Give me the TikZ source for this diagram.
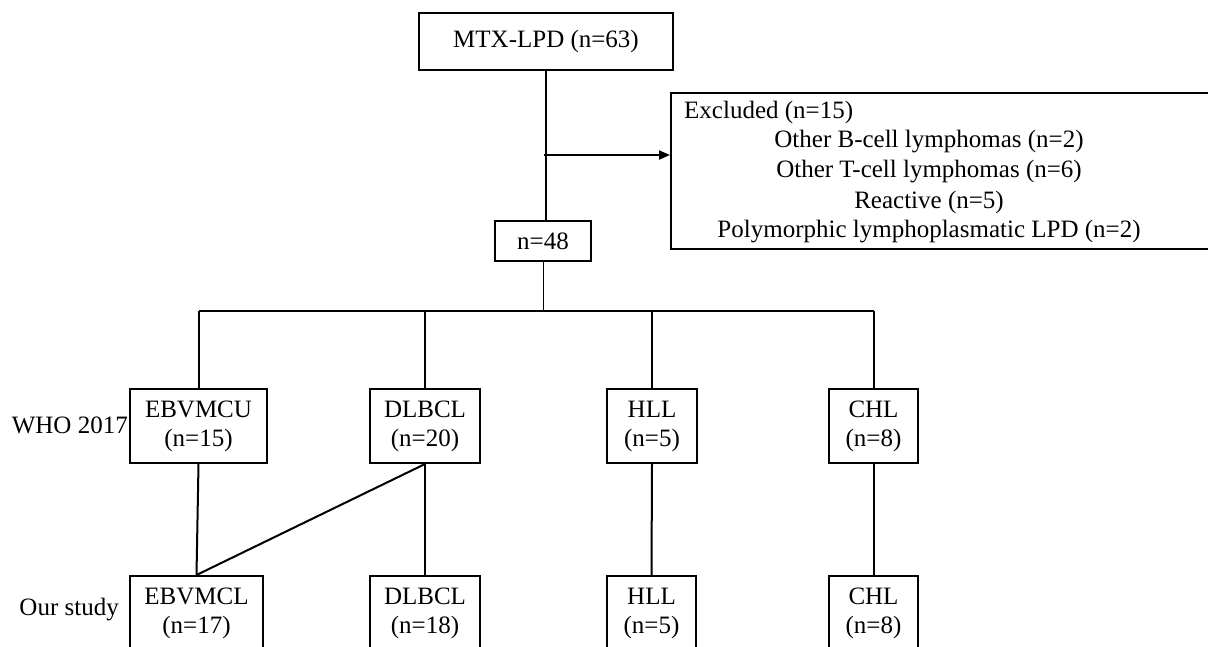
\documentclass[tikz,border=0pt]{standalone}
\usepackage{fontspec}
\setmainfont{Liberation Serif}
\usetikzlibrary{arrows.meta}

\begin{document}
\begin{tikzpicture}[x=1pt,y=1pt,yscale=-1,xscale=1,
	box/.style={draw, line width=2pt, rectangle, inner sep=0pt, align=center, minimum height=74pt, font=\fontsize{25}{29}\selectfont},
	lbl/.style={inner sep=0pt, font=\fontsize{25}{29}\selectfont},
	link/.style={line width=2pt}]
	\clip (0,0) rectangle (1208,646);

	\node [box, minimum width=254pt, minimum height=57pt] (mtx) at (546,41.5) {MTX-LPD (n=63)};
	\node [box, minimum width=96pt, minimum height=40pt] (n48) at (543,241) {n=48};
	\node [box, minimum width=560pt, minimum height=156pt] (excl) at (951,171) {};

	\node [lbl, anchor=west] (exhead) at (684,112) {Excluded (n=15)};
	\node [lbl] (exb) at (929,142) {Other B-cell lymphomas (n=2)};
	\node [lbl] (ext) at (929,172) {Other T-cell lymphomas (n=6)};
	\node [lbl] (exr) at (929,202) {Reactive (n=5)};
	\node [lbl] (exp) at (929,232) {Polymorphic lymphoplasmatic LPD (n=2)};

	\node [box, minimum width=137pt] (ebvmcu) at (198.5,426) {EBVMCU\\(n=15)};
	\node [box, minimum width=110pt] (dlbcla) at (425,426) {DLBCL\\(n=20)};
	\node [box, minimum width=90pt] (hlla) at (652,426) {HLL\\(n=5)};
	\node [box, minimum width=89pt] (chla) at (873.5,426) {CHL\\(n=8)};

	\node [box, minimum width=133pt] (ebvmcl) at (196.5,613) {EBVMCL\\(n=17)};
	\node [box, minimum width=110pt] (dlbclb) at (425,613) {DLBCL\\(n=18)};
	\node [box, minimum width=89pt] (hllb) at (651.5,613) {HLL\\(n=5)};
	\node [box, minimum width=89pt] (chlb) at (873.5,613) {CHL\\(n=8)};

	\node [lbl, anchor=east] (who) at (128,425) {WHO 2017};
	\node [lbl, anchor=east] (ours) at (119,610) {Our study};

	\coordinate (split) at (544,155);
	\coordinate (bus) at (543,311);

	\draw [link] (mtx.south) -- (mtx.south |- n48.north);
	\draw [link, -{Triangle[length=11pt,width=9pt]}] (split) -- (split -| excl.west);
	\draw [line width=1pt] (n48.south) -- (bus);
	\draw [link] (ebvmcu.north |- bus) -- (chla.north |- bus);
	\foreach \n in {ebvmcu,dlbcla,hlla,chla}
		\draw [link] (\n.north |- bus) -- (\n.north);

	\draw [link] (ebvmcu.south) -- (ebvmcl.north);
	\draw [link] (dlbcla.south) -- (ebvmcl.north);
	\draw [link] (dlbcla.south) -- (dlbclb.north);
	\draw [link] (hlla.south) -- (hllb.north);
	\draw [link] (chla.south) -- (chlb.north);
\end{tikzpicture}
\end{document}
